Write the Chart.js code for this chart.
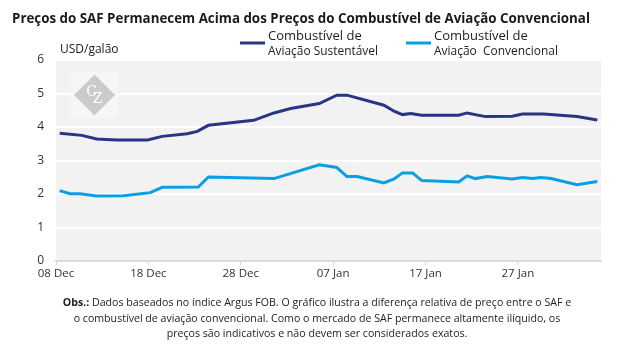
<!DOCTYPE html>
<html>
<head>
<meta charset="utf-8">
<script src="https://cdn.jsdelivr.net/npm/chart.js@4"></script>
<style>
  html, body { margin: 0; padding: 0; background: #fff; }
  #wrap { position: relative; width: 621px; height: 348px; }
</style>
</head>
<body>
<div id="wrap"><canvas id="chart" width="621" height="348"></canvas></div>
<script>
// days counted from 08 Dec
const safDays = [0.4, 2.8, 4.4, 6.6, 9.9, 11.5, 14.2, 15.3, 16.5, 21.4, 23.6, 25.4, 28.5, 30.4, 31.5, 35.5, 36.6, 37.5, 38.4, 39.6, 43.6, 44.5, 46.5, 49.4, 50.5, 52.8, 56.4, 58.6];
const safPrices = [3.81, 3.75, 3.64, 3.61, 3.61, 3.72, 3.80, 3.87, 4.05, 4.20, 4.42, 4.55, 4.70, 4.95, 4.95, 4.65, 4.47, 4.37, 4.40, 4.35, 4.35, 4.42, 4.31, 4.32, 4.39, 4.39, 4.31, 4.21];

const convDays = [0.4, 1.5, 2.6, 4.4, 7.3, 10.2, 11.5, 15.4, 16.5, 23.6, 28.5, 30.4, 31.5, 32.6, 35.5, 36.6, 37.5, 38.6, 39.6, 43.6, 44.5, 45.4, 46.7, 49.4, 50.5, 51.6, 52.5, 53.6, 56.4, 58.6];
const convPrices = [2.10, 2.01, 2.01, 1.94, 1.95, 2.04, 2.20, 2.21, 2.51, 2.46, 2.87, 2.79, 2.52, 2.52, 2.33, 2.45, 2.63, 2.63, 2.40, 2.36, 2.54, 2.46, 2.52, 2.45, 2.49, 2.46, 2.49, 2.46, 2.28, 2.37];

const tickLabels = ['08 Dec', '18 Dec', '28 Dec', '07 Jan', '17 Jan', '27 Jan'];

const seriesNames = [
  ['Combustível de', 'Aviação Sustentável'],
  ['Combustível de', 'Aviação  Convencional']
];
const title = 'Preços do SAF Permanecem Acima dos Preços do Combustível de Aviação Convencional';
const unitLabel = 'USD/galão';
const noteLines = [
  'Dados baseados no índice Argus FOB. O gráfico ilustra a diferença relativa de preço entre o SAF e',
  'o combustível de aviação convencional. Como o mercado de SAF permanece altamente ilíquido, os',
  'preços são indicativos e não devem ser considerados exatos.'
];

const FONT = '"Open Sans", "DejaVu Sans", sans-serif';
const colors = ['#283583', '#0a9fe3'];

function toPoints(xs, ys) {
  return xs.map((x, i) => ({ x: x, y: ys[i] }));
}

// draw text squeezed to a given width
function fitText(ctx, text, x, y, width) {
  const w = ctx.measureText(text).width;
  ctx.save();
  ctx.translate(x, y);
  ctx.scale(Math.min(1, width / w), 1);
  ctx.fillText(text, 0, 0);
  ctx.restore();
}

const decor = {
  id: 'decor',
  beforeDraw(chart) {
    const { ctx, chartArea: a } = chart;
    ctx.save();
    ctx.fillStyle = '#f2f2f2';
    ctx.fillRect(a.left, a.top, a.right - a.left, a.bottom - a.top);
    ctx.restore();
  },
  beforeDatasetsDraw(chart) {
    const ctx = chart.ctx;
    // watermark
    ctx.save();
    ctx.fillStyle = '#f6f6f6';
    ctx.fillRect(71, 71, 47, 47);
    ctx.translate(94.5, 95);
    ctx.rotate(Math.PI / 4);
    ctx.fillStyle = '#cbcbcb';
    ctx.fillRect(-14.5, -14.5, 29, 29);
    ctx.rotate(-Math.PI / 4);
    ctx.fillStyle = '#fff';
    ctx.font = '14px "DejaVu Serif", serif';
    ctx.textAlign = 'center';
    ctx.textBaseline = 'middle';
    ctx.fillText('C', -3, -3);
    ctx.fillText('Z', 3, 4);
    ctx.restore();
  },
  afterDraw(chart) {
    const ctx = chart.ctx;
    ctx.save();
    ctx.fillStyle = '#1a1a1a';
    ctx.textBaseline = 'alphabetic';
    ctx.font = 'bold 14.5px ' + FONT;
    ctx.textAlign = 'left';
    fitText(ctx, title, 12, 23, 578);

    ctx.fillStyle = '#222';
    ctx.font = '12px ' + FONT;
    ctx.fillText(unitLabel, 60, 53);

    // legend
    const legendX = [240, 406];
    const secondLineWidth = [110, 124];
    ctx.font = '13px ' + FONT;
    seriesNames.forEach((lines, i) => {
      ctx.strokeStyle = colors[i];
      ctx.lineWidth = 3;
      ctx.beginPath();
      ctx.moveTo(legendX[i], 43);
      ctx.lineTo(legendX[i] + 25, 43);
      ctx.stroke();
      ctx.fillStyle = '#222';
      ctx.fillText(lines[0], legendX[i] + 28, 40);
      fitText(ctx, lines[1], legendX[i] + 28, 55, secondLineWidth[i]);
    });

    // note
    ctx.font = '11px ' + FONT;
    ctx.fillStyle = '#222';
    const cx = 317;
    const squeeze = 0.965;
    noteLines.forEach((line, i) => {
      const y = 306 + i * 15.5;
      ctx.save();
      ctx.translate(cx, y);
      ctx.scale(squeeze, 1);
      if (i === 0) {
        ctx.font = 'bold 11px ' + FONT;
        const bw = ctx.measureText('Obs.: ').width;
        ctx.font = '11px ' + FONT;
        const w = ctx.measureText(line).width;
        const start = -(bw + w) / 2;
        ctx.font = 'bold 11px ' + FONT;
        ctx.textAlign = 'left';
        ctx.fillText('Obs.: ', start, 0);
        ctx.font = '11px ' + FONT;
        ctx.fillText(line, start + bw, 0);
      } else {
        ctx.textAlign = 'center';
        ctx.fillText(line, 0, 0);
      }
      ctx.restore();
    });
    ctx.restore();
  }
};

new Chart(document.getElementById('chart'), {
  type: 'line',
  data: {
    datasets: [
      {
        label: seriesNames[0].join(' '),
        data: toPoints(safDays, safPrices),
        borderColor: colors[0],
        borderWidth: 3,
        pointRadius: 0,
        tension: 0
      },
      {
        label: seriesNames[1].join(' '),
        data: toPoints(convDays, convPrices),
        borderColor: colors[1],
        borderWidth: 3,
        pointRadius: 0,
        tension: 0
      }
    ]
  },
  options: {
    responsive: false,
    animation: false,
    layout: { padding: { left: 0, right: 20, top: 60, bottom: 0 } },
    plugins: {
      legend: { display: false },
      tooltip: { enabled: false }
    },
    scales: {
      x: {
        type: 'linear',
        min: 0,
        max: 59,
        afterFit(scale) { scale.height = 87; },
        grid: { drawOnChartArea: false, drawTicks: true, tickLength: 4, color: '#d6d6d6' },
        border: { color: '#dcdcdc', width: 2 },
        ticks: {
          stepSize: 10,
          padding: 2,
          maxRotation: 0,
          color: '#333',
          font: { family: FONT, size: 11.5 },
          callback: v => tickLabels[v / 10]
        }
      },
      y: {
        min: 0,
        max: 6,
        afterFit(scale) { scale.width = 56; },
        grid: { color: '#ffffff', lineWidth: 2, drawTicks: false },
        border: { display: false },
        ticks: {
          stepSize: 1,
          padding: 12,
          color: '#333',
          font: { family: FONT, size: 12 }
        }
      }
    }
  },
  plugins: [decor]
});
</script>
</body>
</html>
